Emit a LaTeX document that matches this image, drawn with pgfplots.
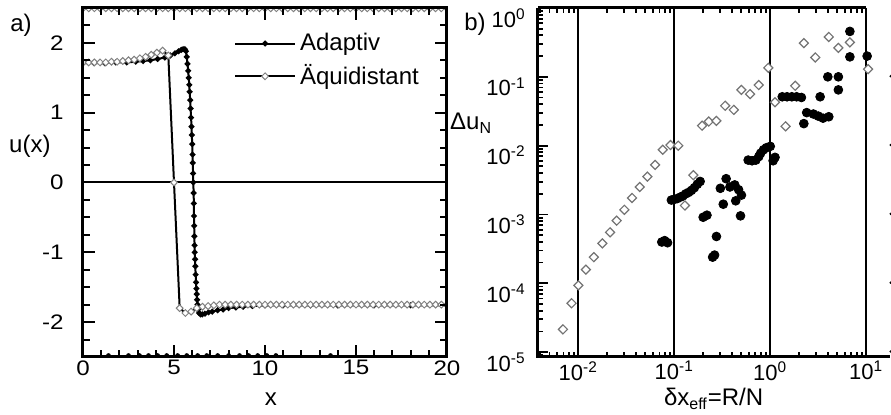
\documentclass[border=0pt]{standalone}
\usepackage{pgfplots}
\pgfplotsset{compat=1.18}
\usepackage{fontspec}
\setmainfont{Liberation Sans}
\newfontfamily\tickfont{Liberation Sans}[FakeStretch=1.15]
\begin{document}
\begin{tikzpicture}
\useasboundingbox (-41.5pt,-29pt) rectangle (404pt,178.5pt);
% ---------------- panel a ----------------
\begin{axis}[
  at={(0,0)}, anchor=south west,
  scale only axis, width=182pt, height=174.5pt,
  xmin=0, xmax=20, ymin=-2.5, ymax=2.5,
  xtick={0,5,10,15,20}, xticklabels={0,5,10,15,20},
  minor xtick={1,2,3,4,6,7,8,9,11,12,13,14,16,17,18,19},
  ytick={-2,-1,0,1,2}, yticklabels={-2,-1,0,1,2},
  minor ytick={-2.25,-1.75,-1.5,-1.25,-0.75,-0.5,-0.25,0.25,0.5,0.75,1.25,1.5,1.75,2.25},
  tick align=inside, tick pos=both,
  major tick length=6pt, minor tick length=3.5pt,
  every tick/.style={black, line width=1pt},
  axis line style={line width=1.5pt},
  axis on top,
  clip mode=individual, clip marker paths=true,
  tick label style={font=\tickfont\fontsize{10.5}{12}\selectfont},
  xticklabel style={inner sep=0pt, yshift=-1.5pt},
  yticklabel style={inner sep=0pt, xshift=-9.5pt},
  xlabel={x}, ylabel={u(x)},
  label style={font=\fontsize{12}{14}\selectfont},
  xlabel style={at={(axis description cs:0.516,-0.12)}, anchor=center},
  ylabel style={at={(axis description cs:-0.146,0.605)}, anchor=center, rotate=-90},
  legend style={at={(axis description cs:0.414,0.94)}, anchor=north west,
    draw=none, fill=none, inner sep=0pt, row sep=1.5pt,
    font=\fontsize{12}{14}\selectfont, nodes={inner sep=2pt}},
  legend cell align=left,
  legend image code/.code={\draw[mark repeat=2,mark phase=2,#1] plot coordinates {(0pt,0pt) (15pt,0pt) (30pt,0pt)};},
]
\addplot[black, line width=1pt, forget plot] coordinates {(0,0) (20,0)};
% clipped rows at the frame
\addplot[only marks, mark=square*, mark size=1.3pt, mark options={rotate=45, fill=white, draw=gray, line width=0.5pt}, forget plot] coordinates {
(0,2.5) (0.3125,2.5) (0.625,2.5) (0.9375,2.5) (1.25,2.5) (1.5625,2.5) (1.875,2.5) (2.1875,2.5) (2.5,2.5) (2.8125,2.5)
(3.125,2.5) (3.4375,2.5) (3.75,2.5) (4.0625,2.5) (4.375,2.5) (4.6875,2.5) (5,2.5) (5.3125,2.5) (5.625,2.5) (5.9375,2.5)
(6.25,2.5) (6.5625,2.5) (6.875,2.5) (7.1875,2.5) (7.5,2.5) (7.8125,2.5) (8.125,2.5) (8.4375,2.5) (8.75,2.5) (9.0625,2.5)
(9.375,2.5) (9.6875,2.5) (10,2.5) (10.3125,2.5) (10.625,2.5) (10.9375,2.5) (11.25,2.5) (11.5625,2.5) (11.875,2.5) (12.1875,2.5)
(12.5,2.5) (12.8125,2.5) (13.125,2.5) (13.4375,2.5) (13.75,2.5) (14.0625,2.5) (14.375,2.5) (14.6875,2.5) (15,2.5) (15.3125,2.5)
(15.625,2.5) (15.9375,2.5) (16.25,2.5) (16.5625,2.5) (16.875,2.5) (17.1875,2.5) (17.5,2.5) (17.8125,2.5) (18.125,2.5) (18.4375,2.5)
(18.75,2.5) (19.0625,2.5) (19.375,2.5) (19.6875,2.5) (20,2.5)};
\addplot[only marks, mark=*, mark size=1pt, black, forget plot] coordinates {
(1.4,-2.48) (2.5,-2.48) (3.1,-2.48) (3.6,-2.48) (4.1,-2.48) (4.6,-2.48) (5.2,-2.48) (5.7,-2.48) (6.3,-2.48)
(6.8,-2.48) (7.4,-2.48) (8.0,-2.48) (8.6,-2.48) (9.1,-2.48) (9.6,-2.48) (10.1,-2.48) (10.6,-2.48) (13.6,-2.48)};
% Adaptiv
\addplot[black, line width=1pt, mark=*, mark size=0.9pt] coordinates {
(0,1.71) (0.6,1.71) (1.2,1.71) (1.8,1.72) (2.4,1.72) (2.9,1.73) (3.3,1.74) (3.7,1.75) (4.1,1.77) (4.5,1.79)
(4.8,1.82) (5.05,1.85) (5.25,1.88) (5.4,1.90) (5.5,1.91) (5.6,1.91) (5.66,1.88) (5.70,1.80) (5.74,1.70) (5.78,1.60)
(5.81,1.50) (5.84,1.40) (5.86,1.30) (5.89,1.18) (5.91,1.06) (5.94,0.93) (5.96,0.80) (5.98,0.68) (6.0,0.55) (6.02,0.40)
(6.03,0.28) (6.05,0.13) (6.06,0.0) (6.08,-0.15) (6.09,-0.30) (6.10,-0.48) (6.11,-0.62) (6.12,-0.77) (6.13,-0.90) (6.14,-1.0)
(6.16,-1.10) (6.17,-1.2) (6.19,-1.32) (6.21,-1.43) (6.23,-1.52) (6.25,-1.60) (6.27,-1.68) (6.29,-1.75) (6.33,-1.82) (6.38,-1.87)
(6.45,-1.89) (6.55,-1.89) (6.7,-1.88) (6.9,-1.86) (7.1,-1.85) (7.4,-1.83) (7.7,-1.82) (8.0,-1.80) (8.4,-1.79) (8.8,-1.78)
(9.3,-1.77) (10,-1.76) (11,-1.76) (12.5,-1.76) (14,-1.76) (16,-1.76) (18,-1.76) (20,-1.76)};
\addlegendentry{Adaptiv}
% Aequidistant
\addplot[black, line width=1pt, mark=square*, mark size=1.2pt, mark options={rotate=45, fill=white, draw=gray, line width=0.5pt}] coordinates {
(0,1.72) (0.3125,1.72) (0.625,1.72) (0.9375,1.72) (1.25,1.72) (1.5625,1.73) (1.875,1.73) (2.1875,1.74) (2.5,1.75) (2.8125,1.76)
(3.125,1.78) (3.4375,1.80) (3.75,1.83) (4.0625,1.86) (4.375,1.89) (4.6875,1.82) (5,0) (5.3125,-1.80) (5.625,-1.87) (5.9375,-1.85)
(6.25,-1.80) (6.5625,-1.78) (6.875,-1.77) (7.1875,-1.76) (7.5,-1.75) (7.8125,-1.75) (8.125,-1.75) (8.4375,-1.75) (8.75,-1.75) (9.0625,-1.75)
(9.375,-1.75) (9.6875,-1.75) (10,-1.75) (10.3125,-1.75) (10.625,-1.75) (10.9375,-1.75) (11.25,-1.75) (11.5625,-1.75) (11.875,-1.75) (12.1875,-1.75)
(12.5,-1.75) (12.8125,-1.75) (13.125,-1.75) (13.4375,-1.75) (13.75,-1.75) (14.0625,-1.75) (14.375,-1.75) (14.6875,-1.75) (15,-1.75) (15.3125,-1.75)
(15.625,-1.75) (15.9375,-1.75) (16.25,-1.75) (16.5625,-1.75) (16.875,-1.75) (17.1875,-1.75) (17.5,-1.75) (17.8125,-1.75) (18.125,-1.75) (18.4375,-1.75)
(18.75,-1.75) (19.0625,-1.75) (19.375,-1.75) (19.6875,-1.75) (20,-1.75)};
\addlegendentry{Äquidistant}
\end{axis}
% ---------------- panel b ----------------
\begin{axis}[
  at={(227.5pt,0)}, anchor=south west,
  scale only axis, width=176pt, height=174.5pt,
  xmode=log, ymode=log,
  xmin=3.8e-3, xmax=17.7, ymin=8.5e-6, ymax=1,
  xtick={0.01,0.1,1,10},
  xticklabels={10\textsuperscript{-2},10\textsuperscript{-1},10\textsuperscript{0},10\textsuperscript{1}},
  minor xtick={0.004,0.005,0.006,0.007,0.008,0.009,0.02,0.03,0.04,0.05,0.06,0.07,0.08,0.09,0.2,0.3,0.4,0.5,0.6,0.7,0.8,0.9,2,3,4,5,6,7,8,9},
  ytick={1e-5,1e-4,1e-3,1e-2,1e-1,1},
  yticklabels={10\textsuperscript{-5},10\textsuperscript{-4},10\textsuperscript{-3},10\textsuperscript{-2},10\textsuperscript{-1},10\textsuperscript{0}},
  minor ytick={9e-6,2e-5,3e-5,4e-5,5e-5,6e-5,7e-5,8e-5,9e-5,2e-4,3e-4,4e-4,5e-4,6e-4,7e-4,8e-4,9e-4,2e-3,3e-3,4e-3,5e-3,6e-3,7e-3,8e-3,9e-3,0.02,0.03,0.04,0.05,0.06,0.07,0.08,0.09,0.2,0.3,0.4,0.5,0.6,0.7,0.8,0.9},
  xmajorgrids, major grid style={black, line width=1pt},
  tick align=inside, xtick pos=both, ytick pos=left,
  major tick length=5pt, minor tick length=2.5pt,
  every tick/.style={black, line width=0.9pt},
  axis line style={draw=none},
  clip mode=individual,
  tick label style={font=\fontsize{11}{13}\selectfont},
  xticklabel style={inner sep=1pt, yshift=-1pt},
  yticklabel style={inner sep=1pt, anchor=east, yshift=-5pt, xshift=-5pt},
  xlabel={δx\textsubscript{eff}=R/N}, ylabel={Δu\textsubscript{N}},
  label style={font=\fontsize{12}{14}\selectfont},
  xlabel style={at={(axis description cs:0.499,-0.12)}, anchor=center},
  ylabel style={at={(axis description cs:-0.19,0.67)}, anchor=center, rotate=-90},
]
\addplot[only marks, mark=*, mark size=2.2pt, black] coordinates {
(7.41e-2,3.98e-4) (7.94e-2,4.17e-4) (8.51e-2,3.89e-4)
(9.33e-2,1.62e-3) (0.100,1.66e-3) (0.107,1.70e-3) (0.115,1.78e-3) (0.123,1.86e-3) (0.132,2.00e-3)
(0.141,2.09e-3) (0.151,2.24e-3) (0.162,2.45e-3) (0.174,2.75e-3) (0.186,3.02e-3)
(0.200,9.12e-4) (0.219,9.77e-4) (0.275,4.79e-4) (0.251,2.40e-4) (0.263,2.57e-4)
(0.302,2.40e-3) (0.324,1.41e-3) (0.347,3.31e-3) (0.380,2.51e-3) (0.427,2.69e-3) (0.468,2.29e-3)
(0.501,1.91e-3) (0.490,9.55e-4) (0.437,1.58e-3)
(0.589,6.17e-3) (0.646,6.03e-3) (0.708,6.17e-3) (0.759,6.92e-3) (0.794,7.76e-3) (0.851,8.71e-3)
(0.912,9.33e-3) (1.000,9.77e-3) (1.122,6.76e-3) (1.072,6.03e-3)
(1.334,5.13e-2) (1.496,5.13e-2) (1.679,5.13e-2) (1.884,5.13e-2) (2.113,5.01e-2)
(2.239,2.09e-2) (2.399,3.02e-2) (2.818,2.88e-2) (3.162,2.69e-2) (3.548,2.51e-2) (4.074,2.63e-2)
(3.311,5.13e-2) (3.981,1.0e-1) (5.129,1.0e-1) (5.129,6.46e-2)
(6.761,0.457) (6.761,0.195) (10.23,0.200)};
\addplot[only marks, mark=square*, mark size=1.6pt, mark options={rotate=45, fill=white, draw=black!55, line width=0.6pt}] coordinates {
(6.92e-3,2.14e-5) (8.51e-3,5.13e-5) (1.0e-2,9.33e-5) (1.20e-2,1.58e-4) (1.45e-2,2.40e-4) (1.78e-2,3.80e-4)
(2.14e-2,5.50e-4) (2.51e-2,8.13e-4) (3.02e-2,1.17e-3) (3.63e-2,1.74e-3) (4.37e-2,2.51e-3) (5.25e-2,3.55e-3)
(6.31e-2,5.25e-3) (7.59e-2,8.71e-3) (9.12e-2,1.02e-2) (0.110,1.0e-2) (0.129,1.35e-3) (0.158,3.72e-3)
(0.195,1.95e-2) (0.229,2.24e-2) (0.275,2.29e-2) (0.339,3.80e-2) (0.417,3.31e-2) (0.501,6.46e-2)
(0.617,5.62e-2) (0.759,7.59e-2) (0.955,0.135) (1.122,4.27e-2) (1.445,1.91e-2) (1.820,7.41e-2)
(2.239,0.309) (2.951,0.191) (4.074,0.380) (5.129,0.263) (6.761,0.316) (10.47,0.129)};
\draw[line width=1.5pt] (rel axis cs:0,1) -- (rel axis cs:0,0) -- (rel axis cs:1,0);
\draw[line width=1.5pt] (rel axis cs:0,1) -- ({axis cs:10,1}|-{rel axis cs:0,1});
\draw[line width=0.9pt] ({rel axis cs:1,0}|-{axis cs:1,1e-5}) -- ++(-4pt,0);
\draw[line width=0.9pt] ({rel axis cs:1,0}|-{axis cs:1,1e-4}) -- ++(-4pt,0);
\draw[line width=0.9pt] ({rel axis cs:1,0}|-{axis cs:1,1e-3}) -- ++(-4pt,0);
\draw[line width=0.9pt] ({rel axis cs:1,0}|-{axis cs:1,1e-2}) -- ++(-4pt,0);
\draw[line width=0.9pt] ({rel axis cs:1,0}|-{axis cs:1,1e-1}) -- ++(-4pt,0);
\end{axis}
\node[font=\fontsize{12}{14}\selectfont] at (-31pt,166pt) {a)};
\node[font=\fontsize{12}{14}\selectfont] at (196pt,166.5pt) {b)};
\end{tikzpicture}
\end{document}
